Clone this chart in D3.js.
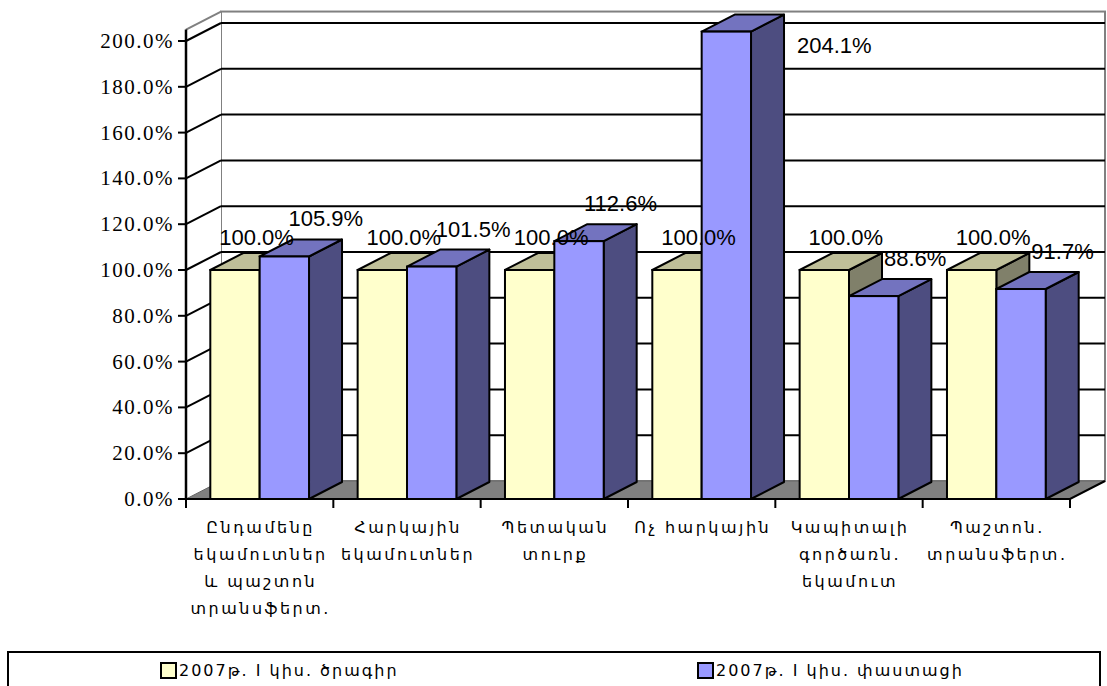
<!DOCTYPE html>
<html>
<head>
<meta charset="utf-8">
<script src="https://cdn.jsdelivr.net/npm/d3@7/dist/d3.min.js"></script>
<style>
  body { margin: 0; background: #fff; }
  svg { display: block; }
</style>
</head>
<body>
<svg id="chart" width="1107" height="686"></svg>
<script>
// chart data
var categories = [
  ["Ընդամենը", "եկամուտներ", "և պաշտոն", "տրանսֆերտ."],
  ["Հարկային", "եկամուտներ"],
  ["Պետական", "տուրք"],
  ["Ոչ հարկային"],
  ["Կապիտալի", "գործառն.", "եկամուտ"],
  ["Պաշտոն.", "տրանսֆերտ."]
];
var seriesNames = ["2007թ. I կիս. ծրագիր", "2007թ. I կիս. փաստացի"];
var planValues = [100.0, 100.0, 100.0, 100.0, 100.0, 100.0];
var actualValues = [105.9, 101.5, 112.6, 204.1, 88.6, 91.7];
var yTicks = [0, 20, 40, 60, 80, 100, 120, 140, 160, 180, 200];

var frontColors = ["#FFFFCC", "#9999FF"];
var topColors = ["#BFBF99", "#7373BF"];
var sideColors = ["#80806A", "#4D4D80"];

var svg = d3.select("#chart");

var plot = {left: 186, right: 1070, bottom: 499, top: 41};
var wallTop = 205;            // wall goes a bit past the last tick
var depth = {dx: 35, dy: -18};
var barDepth = {dx: 33, dy: -17};

var xScale = d3.scaleBand()
  .domain(d3.range(categories.length))
  .range([plot.left, plot.right])
  .padding(0);

var bw = xScale.bandwidth();
var serScale = d3.scaleBand()
  .domain([0, 1])
  .range([bw * 0.165, bw * 0.835])
  .padding(0);

var yScale = d3.scaleLinear().domain([0, 200]).range([plot.bottom, plot.top]);

function pts(arr) {
  return arr.map(function(p) { return p[0] + "," + p[1]; }).join(" ");
}

// -------*****--------  walls and floor  --------*****--------
var y0 = yScale(0), yTop = yScale(wallTop);
var bl = plot.left + depth.dx, br = plot.right + depth.dx;

svg.append("rect")
  .attr("x", bl).attr("y", yTop + depth.dy)
  .attr("width", br - bl).attr("height", y0 - yTop)
  .attr("fill", "#fff").attr("stroke", "#808080").attr("stroke-width", 2);

svg.append("polygon")
  .attr("points", pts([[plot.left, yTop], [bl, yTop + depth.dy], [bl, y0 + depth.dy], [plot.left, y0]]))
  .attr("fill", "#fff");
svg.append("line")
  .attr("x1", plot.left).attr("y1", yTop).attr("x2", bl).attr("y2", yTop + depth.dy)
  .attr("stroke", "#808080").attr("stroke-width", 2);

var grid = yTicks.filter(function(t) { return t > 0; });

svg.selectAll(".grid-back").data(grid).enter().append("line")
  .attr("class", "grid-back")
  .attr("x1", bl).attr("x2", br)
  .attr("y1", function(d) { return yScale(d) + depth.dy; })
  .attr("y2", function(d) { return yScale(d) + depth.dy; })
  .attr("stroke", "#000").attr("stroke-width", 2);

svg.selectAll(".grid-side").data(grid).enter().append("line")
  .attr("class", "grid-side")
  .attr("x1", plot.left).attr("x2", bl)
  .attr("y1", function(d) { return yScale(d); })
  .attr("y2", function(d) { return yScale(d) + depth.dy; })
  .attr("stroke", "#000").attr("stroke-width", 2);

// floor
svg.append("polygon")
  .attr("points", pts([[plot.left, y0], [plot.right, y0], [br, y0 + depth.dy], [bl, y0 + depth.dy]]))
  .attr("fill", "#808080").attr("stroke", "#666").attr("stroke-width", 1);
svg.append("polyline")
  .attr("points", pts([[plot.left, y0], [plot.right, y0], [br, y0 + depth.dy]]))
  .attr("fill", "none").attr("stroke", "#000").attr("stroke-width", 2);

// -------*****--------  axes  --------*****--------
svg.append("line")
  .attr("x1", plot.left).attr("x2", plot.left)
  .attr("y1", yTop).attr("y2", y0 + 1)
  .attr("stroke", "#000").attr("stroke-width", 2.5);

svg.selectAll(".ytick").data(yTicks).enter().append("line")
  .attr("x1", plot.left - 8).attr("x2", plot.left)
  .attr("y1", function(d) { return yScale(d); })
  .attr("y2", function(d) { return yScale(d); })
  .attr("stroke", "#000").attr("stroke-width", 2);

svg.selectAll(".ylabel").data(yTicks).enter().append("text")
  .attr("x", 174)
  .attr("y", function(d) { return yScale(d) + 7; })
  .attr("text-anchor", "end")
  .attr("font-family", "Liberation Serif, DejaVu Serif, serif")
  .attr("font-size", 21)
  .style("letter-spacing", "1.5px")
  .text(function(d) { return d3.format(".1f")(d) + "%"; });

var bounds = d3.range(categories.length + 1).map(function(i) { return plot.left + i * bw; });
svg.selectAll(".xtick").data(bounds).enter().append("line")
  .attr("x1", function(d) { return d; }).attr("x2", function(d) { return d; })
  .attr("y1", y0).attr("y2", y0 + 9)
  .attr("stroke", "#000").attr("stroke-width", 2);

// -------*****--------  bars  --------*****--------
var series = [planValues, actualValues];
var bars = [];
categories.forEach(function(c, i) {
  series.forEach(function(vals, s) {
    bars.push({cat: i, s: s, v: vals[i]});
  });
});

var barG = svg.selectAll(".bar").data(bars).enter().append("g").attr("class", "bar");

function barGeom(d) {
  var x0 = xScale(d.cat) + serScale(d.s);
  var x1 = x0 + serScale.bandwidth();
  var yt = yScale(d.v);
  return {x0: x0, x1: x1, yt: yt};
}

// side face
barG.append("polygon")
  .attr("points", function(d) {
    var g = barGeom(d);
    return pts([[g.x1, g.yt], [g.x1 + barDepth.dx, g.yt + barDepth.dy],
                [g.x1 + barDepth.dx, y0 + barDepth.dy], [g.x1, y0]]);
  })
  .attr("fill", function(d) { return sideColors[d.s]; })
  .attr("stroke", "#000").attr("stroke-width", 2).attr("stroke-linejoin", "round");

// top face
barG.append("polygon")
  .attr("points", function(d) {
    var g = barGeom(d);
    return pts([[g.x0, g.yt], [g.x1, g.yt],
                [g.x1 + barDepth.dx, g.yt + barDepth.dy], [g.x0 + barDepth.dx, g.yt + barDepth.dy]]);
  })
  .attr("fill", function(d) { return topColors[d.s]; })
  .attr("stroke", "#000").attr("stroke-width", 2).attr("stroke-linejoin", "round");

// front face
barG.append("rect")
  .attr("x", function(d) { return barGeom(d).x0; })
  .attr("y", function(d) { return barGeom(d).yt; })
  .attr("width", serScale.bandwidth())
  .attr("height", function(d) { return y0 - barGeom(d).yt; })
  .attr("fill", function(d) { return frontColors[d.s]; })
  .attr("stroke", "#000").attr("stroke-width", 2);

// value labels
svg.selectAll(".vlabel").data(bars).enter().append("text")
  .attr("class", "vlabel")
  .each(function(d) {
    var g = barGeom(d);
    var t = d3.select(this);
    if (d.v > yTicks[yTicks.length - 1]) {
      // too tall: label goes to the right of the bar
      t.attr("x", g.x1 + barDepth.dx + 13).attr("y", yScale(200) + 12).attr("text-anchor", "start");
    } else {
      var cx = (g.x0 + g.x1) / 2 + barDepth.dx / 2 + (d.s === 0 ? 5 : 25);
      var by = g.yt + barDepth.dy - (d.s === 0 ? 8 : 13);
      t.attr("x", cx).attr("y", by).attr("text-anchor", "middle");
    }
  })
  .attr("font-family", "Liberation Sans, Arial, sans-serif")
  .attr("font-size", 22)
  .text(function(d) { return d3.format(".1f")(d.v) + "%"; });

// category labels
var catG = svg.selectAll(".cat").data(categories).enter().append("text")
  .attr("class", "cat")
  .attr("text-anchor", "middle")
  .attr("font-family", "DejaVu Sans, sans-serif")
  .attr("font-size", 16)
  .style("letter-spacing", "2.5px");

catG.selectAll("tspan").data(function(d, i) {
    return d.map(function(line, k) { return {line: line, k: k, i: i}; });
  })
  .enter().append("tspan")
  .attr("x", function(d) { return xScale(d.i) + bw / 2 + 1; })
  .attr("y", function(d) { return 533 + d.k * 27; })
  .text(function(d) { return d.line; });

// -------*****--------  legend  --------*****--------
svg.append("rect")
  .attr("x", 8).attr("y", 652).attr("width", 1092).attr("height", 45)
  .attr("fill", "#fff").attr("stroke", "#000").attr("stroke-width", 2);

var legX = [161, 698];
var leg = svg.selectAll(".leg").data(seriesNames).enter().append("g")
  .attr("transform", function(d, i) { return "translate(" + legX[i] + ",663)"; });

leg.append("rect")
  .attr("width", 15).attr("height", 15)
  .attr("fill", function(d, i) { return frontColors[i]; })
  .attr("stroke", "#000").attr("stroke-width", 2);

leg.append("text")
  .attr("x", 18).attr("y", 13)
  .attr("font-family", "DejaVu Sans, sans-serif")
  .attr("font-size", 16)
  .style("letter-spacing", "2px")
  .text(function(d) { return d; });
</script>
</body>
</html>
